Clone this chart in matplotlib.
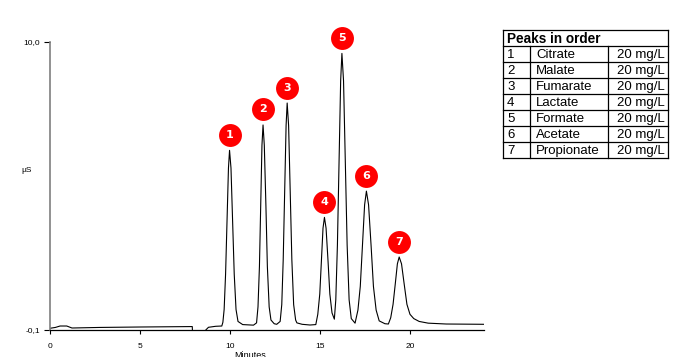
import matplotlib
matplotlib.use("Agg")
import matplotlib.pyplot as plt

# ---------- data ----------
time_min = [0.00, 0.30, 0.56, 0.93, 1.22, 2.78, 5.00, 7.83, 7.90, 7.94, 8.55, 8.65, 8.80, 9.20, 9.54,
            9.60, 9.67, 9.75, 9.83, 9.91, 9.97, 10.05, 10.14, 10.23, 10.33, 10.44, 10.70, 11.30,
            11.47, 11.55, 11.63, 11.70, 11.77, 11.83, 11.90, 11.99, 12.07, 12.17, 12.27, 12.45, 12.59,
            12.78, 12.87, 12.95, 13.03, 13.11, 13.17, 13.25, 13.34, 13.43, 13.53, 13.64, 13.71, 14.00, 14.44, 14.76,
            14.87, 14.98, 15.07, 15.16, 15.24, 15.33, 15.44, 15.54, 15.66, 15.79,
            15.87, 15.96, 16.05, 16.14, 16.21, 16.30, 16.40, 16.50, 16.61, 16.73, 16.94,
            17.10, 17.23, 17.35, 17.47, 17.57, 17.69, 17.83, 17.96, 18.11, 18.28, 18.60, 18.79,
            18.92, 19.05, 19.17, 19.29, 19.39, 19.52, 19.67, 19.82, 19.99, 20.20, 20.50, 21.00, 22.00, 24.10]
signal_uS = [-0.04, -0.01, 0.04, 0.04, -0.03, -0.01, 0.005, 0.02, 0.02, -0.6, -0.6, -0.1, -0.005, 0.03, 0.04,
             0.17, 0.62, 1.86, 3.72, 5.58, 6.20, 5.58, 3.72, 1.86, 0.62, 0.20, 0.09, 0.07,
             0.15, 0.71, 2.13, 4.25, 6.38, 7.09, 6.38, 4.25, 2.13, 0.71, 0.25, 0.12, 0.10,
             0.20, 0.79, 2.36, 4.72, 7.07, 7.86, 7.07, 4.72, 2.36, 0.79, 0.25, 0.15, 0.10, 0.075, 0.09,
             0.45, 1.16, 2.31, 3.47, 3.85, 3.47, 2.31, 1.16, 0.50, 0.28,
             0.96, 2.88, 5.76, 8.64, 9.60, 8.64, 5.76, 2.88, 0.96, 0.30, 0.14,
             0.60, 1.43, 2.86, 4.29, 4.77, 4.29, 2.86, 1.43, 0.60, 0.22, 0.12, 0.11,
             0.33, 0.80, 1.50, 2.22, 2.46, 2.22, 1.50, 0.80, 0.45, 0.30, 0.20, 0.14, 0.11, 0.10]

peak_no = [1, 2, 3, 4, 5, 6, 7]
peak_time = [9.97, 11.83, 13.17, 15.24, 16.21, 17.57, 19.39]
peak_height = [6.20, 7.09, 7.86, 3.85, 9.60, 4.77, 2.46]

analytes = ["Citrate", "Malate", "Fumarate", "Lactate", "Formate", "Acetate", "Propionate"]
conc = ["20 mg/L"] * 7

x_ticks = [0, 5, 10, 15, 20]
y_ticks = [-0.1, 10.0]
y_tick_labels = ["-0,1", "10,0"]

W, H = 684, 357
fig = plt.figure(figsize=(W / 100, H / 100), dpi=100)

# ---------- chromatogram ----------
ax = fig.add_axes([50 / W, (H - 330) / H, 434 / W, 288 / H])
ax.plot(time_min, signal_uS, color="black", lw=0.8)
ax.set_xlim(0, 24.1)
ax.set_ylim(-0.1, 10.0)

for s in ("top", "right"):
    ax.spines[s].set_visible(False)
ax.spines["left"].set_color("#7f7f7f")
ax.spines["left"].set_linewidth(1.2)
ax.spines["bottom"].set_color("black")
ax.spines["bottom"].set_linewidth(0.9)

ax.set_xticks(x_ticks)
ax.set_xticklabels([str(t) for t in x_ticks], fontsize=6, family="Liberation Sans")
ax.set_yticks(y_ticks)
ax.set_yticklabels(y_tick_labels, fontsize=6, family="Liberation Sans")
ax.tick_params(axis="x", length=3, width=0.8, pad=6)
ax.tick_params(axis="y", length=4, width=0.8, pad=3)

fig.text(27 / W, 1 - 170 / H, "µS", fontsize=6, family="Liberation Sans", ha="center", va="center")
fig.text(250 / W, 1 - 355 / H, "Minutes", fontsize=6.5, family="Liberation Sans", ha="center", va="center")

# peak labels: red circles ~15 px above the peak tops
lift = 15.5 * 10.1 / 288
lab_y = [h + lift for h in peak_height]
ax.scatter(peak_time, lab_y, s=16.5 ** 2, color="#ff0000", zorder=5, clip_on=False, linewidths=0)
for n, t, y in zip(peak_no, peak_time, lab_y):
    ax.text(t, y, str(n), color="white", fontsize=8, fontweight="bold", ha="center", va="center",
            zorder=6, clip_on=False)

# ---------- peak table ----------
tx0, tx1, ty0, ty1 = 502.7, 667.7, 30.0, 158.3
tab = fig.add_axes([tx0 / W, (H - ty1) / H, (tx1 - tx0) / W, (ty1 - ty0) / H])
tab.set_xlim(tx0, tx1)
tab.set_ylim(ty1, ty0)
tab.axis("off")
row_h = (ty1 - ty0) / 8
lw = 0.9
for k in range(9):
    y = ty0 + k * row_h
    tab.plot([tx0, tx1], [y, y], color="black", lw=lw, clip_on=False, solid_capstyle="projecting")
tab.plot([tx0, tx0], [ty0, ty1], color="black", lw=lw, clip_on=False)
tab.plot([tx1, tx1], [ty0, ty1], color="black", lw=lw, clip_on=False)
for xs in (530.0, 608.3):
    tab.plot([xs, xs], [ty0 + row_h, ty1], color="black", lw=lw, clip_on=False)

tab.text(507, ty0 + row_h / 2 + 0.5, "Peaks in order", fontsize=9.8, fontweight="bold",
         family="Liberation Sans", ha="left", va="center")
for i, (n, name, c) in enumerate(zip(peak_no, analytes, conc)):
    yc = ty0 + (i + 1.5) * row_h + 0.5
    tab.text(507, yc, str(n), fontsize=9.5, family="Liberation Sans", ha="left", va="center")
    tab.text(536, yc, name, fontsize=9.5, family="Liberation Sans", ha="left", va="center")
    tab.text(665, yc, c, fontsize=9.5, family="Liberation Sans", ha="right", va="center")

fig.savefig("out.png", dpi=100)
